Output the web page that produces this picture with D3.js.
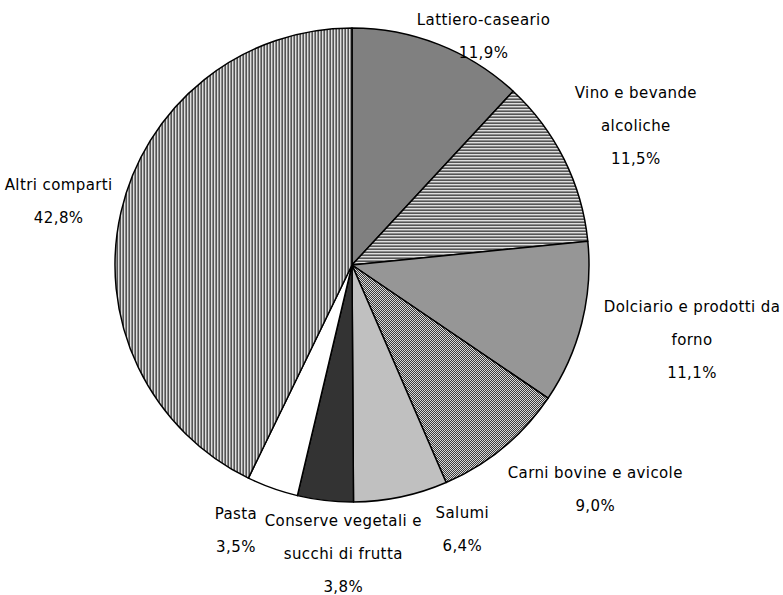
<!DOCTYPE html>
<html>
<head>
<meta charset="utf-8">
<script src="https://cdn.jsdelivr.net/npm/d3@7"></script>
<style>
body { margin: 0; background: #fff; }
text { font-family: "DejaVu Sans", sans-serif; font-size: 15px; letter-spacing: 0.4px; fill: #000; }
</style>
</head>
<body>
<div id="chart"></div>
<script>
// Data
var categories = ["Lattiero-caseario", "Vino e bevande alcoliche", "Dolciario e prodotti da forno",
    "Carni bovine e avicole", "Salumi", "Conserve vegetali e succhi di frutta", "Pasta", "Altri comparti"];
var label_lines = [["Lattiero-caseario"], ["Vino e bevande", "alcoliche"], ["Dolciario e prodotti da", "forno"],
    ["Carni bovine e avicole"], ["Salumi"], ["Conserve vegetali e", "succhi di frutta"], ["Pasta"], ["Altri comparti"]];
var values = [11.9, 11.5, 11.1, 9.0, 6.4, 3.8, 3.5, 42.8];
var value_labels = ["11,9%", "11,5%", "11,1%", "9,0%", "6,4%", "3,8%", "3,5%", "42,8%"];

// Styles
var fills = ["#808080", "url(#hstripe)", "#969696", "url(#checker)", "#c0c0c0", "#333333", "#ffffff", "url(#vstripe)"];
var label_nudge = [[17, 23], [8, -11], [15, 4], [30, 16], [54, 0], [28, 4], [-26, 10], [0, -3]];

var chart_width = 783;
var chart_height = 595;
var cx = 352, cy = 265, radius = 237;
var line_gap = 33;

var svg = d3.select("#chart")
    .append("svg")
    .attr("width", chart_width)
    .attr("height", chart_height);

var defs = svg.append("defs");

var hs = defs.append("pattern").attr("id", "hstripe")
    .attr("patternUnits", "userSpaceOnUse").attr("width", 6).attr("height", 6);
hs.append("rect").attr("width", 6).attr("height", 6).attr("fill", "#dedede");
[1, 4].forEach(function(y){
    hs.append("rect").attr("y", y).attr("width", 6).attr("height", 1).attr("fill", "#8c8c8c");
    hs.append("rect").attr("y", y + 1).attr("width", 6).attr("height", 1).attr("fill", "#555");
});

var vs = defs.append("pattern").attr("id", "vstripe")
    .attr("patternUnits", "userSpaceOnUse").attr("width", 6).attr("height", 6);
vs.append("rect").attr("width", 6).attr("height", 6).attr("fill", "#dedede");
[1, 4].forEach(function(x){
    vs.append("rect").attr("x", x).attr("width", 1).attr("height", 6).attr("fill", "#8c8c8c");
    vs.append("rect").attr("x", x + 1).attr("width", 1).attr("height", 6).attr("fill", "#555");
});

var ck = defs.append("pattern").attr("id", "checker")
    .attr("patternUnits", "userSpaceOnUse").attr("width", 4).attr("height", 4);
ck.append("rect").attr("width", 4).attr("height", 4).attr("fill", "#d8d8d8");
d3.range(4).forEach(function(r){
    d3.range(4).forEach(function(c){
        if ((r + c) % 2 === 0) {
            ck.append("rect").attr("x", c).attr("y", r).attr("width", 1).attr("height", 1)
                .attr("fill", "#3c3c3c").attr("shape-rendering", "crispEdges");
        }
    });
});

var pie = d3.pie().sort(null).value(function(d){ return d; });
var arc = d3.arc().innerRadius(0).outerRadius(radius);
var arcs = pie(values);

var g = svg.append("g").attr("transform", "translate(" + cx + "," + cy + ")");

g.selectAll("path")
    .data(arcs)
    .enter()
    .append("path")
    .attr("d", arc)
    .attr("fill", function(d, i){ return fills[i]; })
    .attr("stroke", "#000")
    .attr("stroke-width", 1.5)
    .attr("stroke-linejoin", "round");

// Labels: placed just outside the slice, block edge touching the anchor
var labels = g.selectAll("g.label")
    .data(arcs)
    .enter()
    .append("g")
    .attr("class", "label");

labels.each(function(d, i){
    var lg = d3.select(this);
    var lines = label_lines[i].concat([value_labels[i]]);
    var t = lg.append("text").attr("text-anchor", "middle");
    lines.forEach(function(s, k){
        t.append("tspan").attr("x", 0).attr("y", k * line_gap).attr("dy", "0.35em").text(s);
    });
    var w = d3.max(t.selectAll("tspan").nodes(), function(n){ return n.getComputedTextLength(); });
    var h = (lines.length - 1) * line_gap + 14;
    var a = (d.startAngle + d.endAngle) / 2;
    var ax = Math.sin(a) * (radius + 10);
    var ay = -Math.cos(a) * (radius + 10);
    var lx = ax + Math.sin(a) * w / 2 + label_nudge[i][0];
    var ly = ay - Math.cos(a) * h / 2 + label_nudge[i][1] - (lines.length - 1) * line_gap / 2;
    lg.attr("transform", "translate(" + lx + "," + ly + ")");
});
</script>
</body>
</html>
